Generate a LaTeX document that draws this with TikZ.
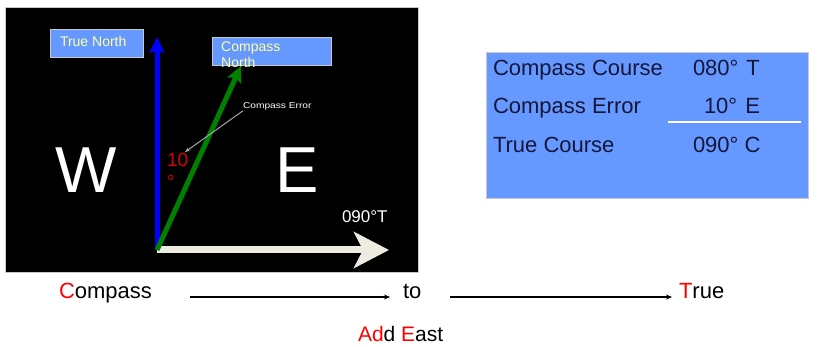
\documentclass[tikz,border=0pt]{standalone}
\usepackage{fontspec}
\setmainfont{Liberation Sans}
\usetikzlibrary{arrows.meta}
\definecolor{boxblue}{RGB}{102,153,255}
\definecolor{navytext}{RGB}{22,22,58}
\definecolor{paleyel}{RGB}{255,255,160}
\definecolor{cream}{RGB}{238,236,225}
\definecolor{darkgreen}{RGB}{0,128,0}
\definecolor{redtext}{RGB}{230,20,20}
\definecolor{panelborder}{RGB}{200,200,200}
\tikzset{
  px/.style={font=\fontsize{#1}{#1}\selectfont},
  lbl/.style={anchor=base west, inner sep=0pt, outer sep=0pt},
  bluebox/.style={fill=boxblue, draw=panelborder, line width=1pt, inner sep=0pt},
  flow/.style={draw=black, line width=1.4pt, -{Stealth[length=6pt,width=5pt]}},
}
\begin{document}
\begin{tikzpicture}[x=1pt,y=-1pt]
\useasboundingbox (0,0) rectangle (831,347);
\fill[white] (0,0) rectangle (831,347);

% black panel
\node[fill=black, draw=panelborder, line width=0.8pt, inner sep=0pt, minimum width=413pt, minimum height=265pt, anchor=north west] (panel) at (5,7) {};

% label boxes
\node[bluebox, minimum width=93pt, minimum height=28pt, anchor=north west] (tnbox) at (50,29) {};
\node[lbl, px=14, text=paleyel] (tntext) at (60,47) {True North};
\node[bluebox, minimum width=119pt, minimum height=28pt, anchor=north west] (cnbox) at (212,37) {};
\node[anchor=north west, inner sep=0pt, align=left, px=14, text=paleyel, font=\fontsize{14}{16}\selectfont] (cntext) at (221,42) {Compass\\North};

% arrows
\coordinate (O) at (157,250);
\coordinate (tnTip) at (157,37);
\coordinate (cnTip) at (241,66);
\coordinate (eTip) at (389,250);
\draw[cream, line width=7pt, -{Stealth[length=35pt,width=36pt,inset=9pt]}] (O) -- (eTip);
\draw[blue, line width=5pt, -{Stealth[length=16pt,width=15pt,inset=3pt]}] (O) -- (tnTip);
\draw[darkgreen, line width=5pt, -{Stealth[length=16pt,width=15pt,inset=3pt]}] (O) -- (cnTip);

% W and E
\node[lbl, px=65, text=white] (W) at (55,193) {W};
\node[lbl, px=65, text=white] (E) at (275,193) {E};

% 10 degrees
\node[lbl, px=19, text=red!85!black] (ten) at (167,167) {10};
\node[lbl, px=19, text=red!85!black] (deg) at (167,189) {°};

% compass error annotation
\node[lbl, px=8.5, text=white] (ce) at (243,109) {\scalebox{1.2}[1]{Compass Error}};
\coordinate (ceTip) at (185,152);
\draw[gray!70!white, line width=1pt, -{Stealth[length=5pt,width=4pt]}] (ce.south west) -- (ceTip);

% 090 T
\node[lbl, px=17, text=white] (ninety) at (342,223) {090°T};

% right table
\node[bluebox, minimum width=322pt, minimum height=146pt, anchor=north west] (table) at (486,52) {};
\node[lbl, px=22, text=navytext] (r1) at (493,76) {Compass Course};
\node[lbl, px=22, text=navytext] (v1) at (693,76) {080°\hspace{8pt}T};
\node[lbl, px=22, text=navytext] (r2) at (493,114) {Compass Error};
\node[lbl, px=22, text=navytext] (v2) at (704,114) {10°\hspace{8pt}E};
\node[lbl, px=22, text=navytext] (r3) at (493,153) {True Course};
\node[lbl, px=22, text=navytext] (v3) at (693,153) {090° C};
\coordinate (ulA) at (668,122);
\coordinate (ulB) at (801,122);
\draw[white, line width=2pt] (ulA) -- (ulB);

% bottom line
\node[lbl, px=22] (comp) at (59,299) {\textcolor{red}{C}ompass};
\node[lbl, px=22] (to) at (403,299) {to};
\node[lbl, px=22] (true) at (679,299) {\textcolor{red}{T}rue};
\node[lbl, px=21] (addeast) at (358,342) {\textcolor{red}{A}\textcolor{red}{d}d \textcolor{red}{E}ast};
\draw[flow] (comp.east |- 0,297) ++(38,0) -- ([xshift=-13pt]to.west |- 0,297);
\draw[flow] (to.east |- 0,297) ++(29,0) -- ([xshift=-7pt]true.west |- 0,297);
\end{tikzpicture}
\end{document}
